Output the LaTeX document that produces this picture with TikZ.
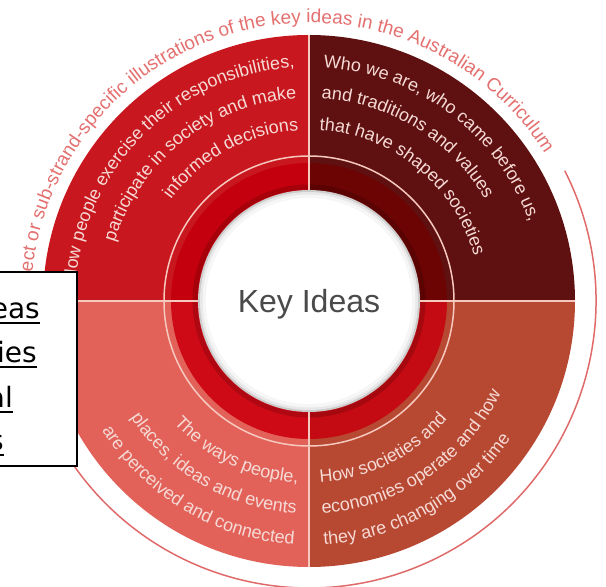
\documentclass[tikz,border=0pt]{standalone}
\usepackage{fontspec}
\setmainfont{Liberation Sans}
\newfontfamily\boxfont{DejaVu Sans}
\usetikzlibrary{decorations.text}
\definecolor{qTL}{HTML}{C8171E}
\definecolor{qTR}{HTML}{5F1010}
\definecolor{qBL}{HTML}{E2625A}
\definecolor{qBR}{HTML}{B74832}
\definecolor{rTL}{HTML}{C4000E}
\definecolor{rTR}{HTML}{6C0404}
\definecolor{rBL}{HTML}{CE0A16}
\definecolor{rBR}{HTML}{C40A12}
\definecolor{lineC}{HTML}{F6C9BF}
\definecolor{qtxt}{HTML}{F6DAD5}
\definecolor{otxt}{HTML}{E46F6F}
\definecolor{oring}{HTML}{E06A6A}
\definecolor{keyC}{HTML}{4A4A4A}
\newcommand\qfont{\fontsize{18}{18}\selectfont}
\newcommand\ofont{\fontsize{19}{19}\selectfont}
\tikzset{
  arcR/.style={decorate, decoration={text along path, text align=right, text color=qtxt, text={|\qfont|#1}}},
  arcL/.style={decorate, decoration={text along path, text align=left, text color=qtxt, text={|\qfont|#1}}},
  outertext/.style={decorate, decoration={text along path, text align=right, text color=otxt, text={|\ofont|#1}}},
  divider/.style={draw=lineC, line width=1.8pt},
  thinring/.style={draw=lineC, line width=1.5pt},
  outerring/.style={draw=oring, line width=1.5pt},
  boxst/.style={draw=black, fill=white, line width=1.3pt},
  boxtxt/.style={inner sep=0pt, anchor=base east, font=\boxfont\fontsize{28}{28}\selectfont},
  ul/.style={draw=black, line width=2pt}
}
\begin{document}
\begin{tikzpicture}[x=1pt,y=1pt]
\useasboundingbox (-309,-286) rectangle (297,301);
\clip (-309,-286) rectangle (297,301);
% quadrants
\fill[qTR] (0,0) -- (0:266) arc[start angle=0,end angle=90,radius=266] -- cycle;
\fill[qTL] (0,0) -- (90:266) arc[start angle=90,end angle=180,radius=266] -- cycle;
\fill[qBL] (0,0) -- (180:266) arc[start angle=180,end angle=270,radius=266] -- cycle;
\fill[qBR] (0,0) -- (270:266) arc[start angle=270,end angle=360,radius=266] -- cycle;
% inner ring
\fill[rTR] (0,0) -- (0:138) arc[start angle=0,end angle=90,radius=138] -- cycle;
\fill[rTL] (0,0) -- (90:138) arc[start angle=90,end angle=180,radius=138] -- cycle;
\fill[rBL] (0,0) -- (180:138) arc[start angle=180,end angle=270,radius=138] -- cycle;
\fill[rBR] (0,0) -- (270:138) arc[start angle=270,end angle=360,radius=138] -- cycle;
\draw[black, opacity=0.15, line width=5pt] (0,0) circle[radius=114];
% thin ring
\draw[thinring] (0,0) circle[radius=145];
% dividers
\draw[divider] (0:110) -- (0:266);
\draw[divider] (90:110) -- (90:266);
\draw[divider] (180:110) -- (180:266);
\draw[divider] (270:110) -- (270:266);
% centre disc
\fill[gray!40] (0,0) circle[radius=111];
\fill[gray!18] (0,0) circle[radius=109];
\fill[gray!7] (0,0) circle[radius=106.5];
\fill[white] (0,0) circle[radius=103];
\node[font=\fontsize{32}{32}\selectfont, text=keyC, anchor=base] (key) at (0,-11) {Key Ideas};
% quadrant texts
\path[arcR={How people exercise their responsibilities,}] (190:234) arc[start angle=190,end angle=93.5,radius=234];
\path[arcR={participate in society and make}] (190:203) arc[start angle=190,end angle=93.5,radius=203];
\path[arcR={informed decisions}] (190:171) arc[start angle=190,end angle=93.5,radius=171];
\path[arcL={Who we are, who came before us,}] (86.5:234) arc[start angle=86.5,end angle=-10,radius=234];
\path[arcL={and traditions and values}] (86.5:203) arc[start angle=86.5,end angle=-10,radius=203];
\path[arcL={that have shaped societies}] (86.5:171) arc[start angle=86.5,end angle=-10,radius=171];
\path[arcR={The ways people,}] (170:182) arc[start angle=170,end angle=266.5,radius=182];
\path[arcR={places, ideas and events}] (170:213) arc[start angle=170,end angle=266.5,radius=213];
\path[arcR={are perceived and connected}] (170:244) arc[start angle=170,end angle=266.5,radius=244];
\path[arcL={How societies and}] (273.5:182) arc[start angle=273.5,end angle=370,radius=182];
\path[arcL={economies operate and how}] (273.5:213) arc[start angle=273.5,end angle=370,radius=213];
\path[arcL={they are changing over time}] (273.5:244) arc[start angle=273.5,end angle=370,radius=244];
% outer text and ring
\path[outertext={Subject or sub-strand-specific illustrations of the key ideas in the Australian Curriculum}] (205:278) arc[start angle=205,end angle=32,radius=278];
\draw[outerring] (27:287) arc[start angle=27,end angle=-160,radius=287];
% overlaid box
\draw[boxst] (-315,29) rectangle (-232,-165);
\node[boxtxt] (b1) at (-269,-17) {eas};
\node[boxtxt] (b2) at (-272,-61) {ies};
\node[boxtxt] (b3) at (-296,-106) {al};
\node[boxtxt] (b4) at (-305,-149) {s};
\draw[ul] ([yshift=-5pt]b1.base east) -- ++(-60,0);
\draw[ul] ([yshift=-5pt]b2.base east) -- ++(-60,0);
\draw[ul] ([yshift=-5pt]b3.base east) -- ++(-60,0);
\draw[ul] ([yshift=-5pt]b4.base east) -- ++(-60,0);
\end{tikzpicture}
\end{document}
